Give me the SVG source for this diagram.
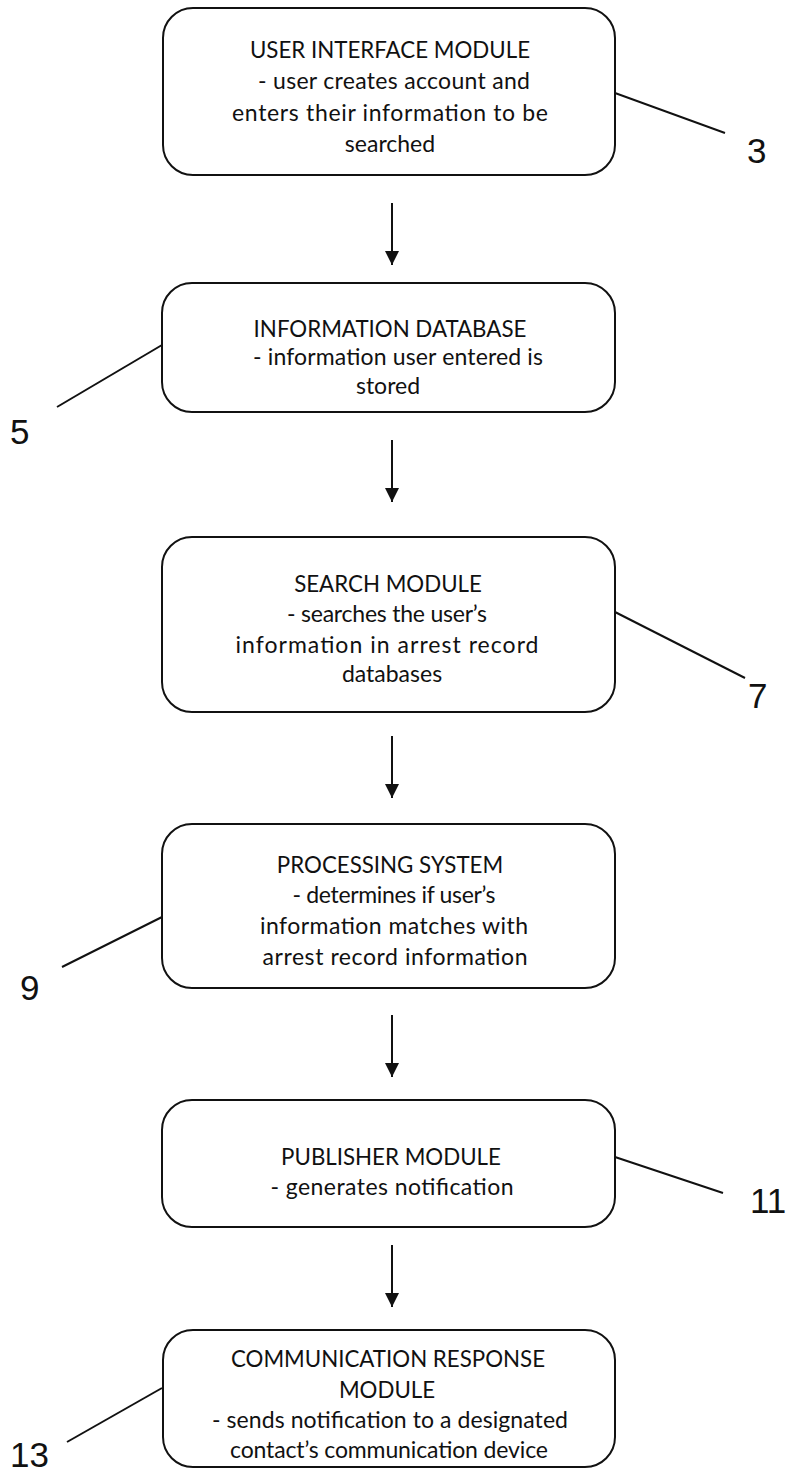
<svg xmlns="http://www.w3.org/2000/svg" width="795" height="1473" viewBox="0 0 795 1473">
<style>
.box{fill:#fff;stroke:#111;stroke-width:2}
.t{font-family:Lato,"Open Sans",sans-serif;font-size:23px;fill:#111;text-anchor:middle}
.c{font-size:22.3px}
.lbl{font-family:"Liberation Sans",Arial,sans-serif;font-size:35px;fill:#111}
.ln{stroke:#111;stroke-width:2;fill:none}
</style>
<defs>
<marker id="ah" viewBox="0 0 10 10" refX="10" refY="5" markerWidth="7" markerHeight="7" orient="auto" markerUnits="strokeWidth">
<path d="M0,0 L10,5 L0,10 Z" fill="#111"/>
</marker>
</defs>
<rect width="795" height="1473" fill="#fff"/>
<g id="n3">
<rect class="box" x="163" y="8" width="452" height="167" rx="30"/>
<text class="t c" x="390" y="58">USER INTERFACE MODULE</text>
<text class="t" x="394" y="89" textLength="272">- user creates account and</text>
<text class="t" x="390" y="121" textLength="316">enters their information to be</text>
<text class="t" x="390" y="152">searched</text>
</g>
<g id="n5">
<rect class="box" x="162" y="283" width="453" height="129" rx="30"/>
<text class="t c" x="390" y="337">INFORMATION DATABASE</text>
<text class="t" x="398" y="365" textLength="290">- information user entered is</text>
<text class="t" x="388" y="394">stored</text>
</g>
<g id="n7">
<rect class="box" x="162" y="537" width="453" height="175" rx="30"/>
<text class="t c" x="388" y="592">SEARCH MODULE</text>
<text class="t" x="387" y="622" textLength="200">- searches the user’s</text>
<text class="t" x="387" y="653" textLength="303">information in arrest record</text>
<text class="t" x="392" y="682">databases</text>
</g>
<g id="n9">
<rect class="box" x="162" y="824" width="453" height="164" rx="30"/>
<text class="t c" x="390" y="873">PROCESSING SYSTEM</text>
<text class="t" x="394" y="903" textLength="203">- determines if user’s</text>
<text class="t" x="394" y="934" textLength="268">information matches with</text>
<text class="t" x="395" y="965" textLength="265">arrest record information</text>
</g>
<g id="n11">
<rect class="box" x="162" y="1100" width="453" height="127" rx="30"/>
<text class="t c" x="391" y="1165">PUBLISHER MODULE</text>
<text class="t" x="392" y="1195" textLength="243">- generates notification</text>
</g>
<g id="n13">
<rect class="box" x="163" y="1330" width="452" height="137" rx="30"/>
<text class="t c" x="388" y="1367">COMMUNICATION RESPONSE</text>
<text class="t c" x="387" y="1398">MODULE</text>
<text class="t" x="390" y="1428" textLength="356">- sends notification to a designated</text>
<text class="t" x="389" y="1458" textLength="318">contact’s communication device</text>
</g>
<g id="connectors">
<line class="ln" x1="392" y1="203" x2="392" y2="265" marker-end="url(#ah)"/>
<line class="ln" x1="392" y1="440" x2="392" y2="502" marker-end="url(#ah)"/>
<line class="ln" x1="392" y1="736" x2="392" y2="798" marker-end="url(#ah)"/>
<line class="ln" x1="392" y1="1015" x2="392" y2="1077" marker-end="url(#ah)"/>
<line class="ln" x1="392" y1="1245" x2="392" y2="1307" marker-end="url(#ah)"/>
</g>
<g id="labels">
<line class="ln" x1="615" y1="93" x2="725" y2="133"/>
<text class="lbl" x="747" y="163">3</text>
<line class="ln" x1="162" y1="345" x2="57" y2="407"/>
<text class="lbl" x="10" y="444">5</text>
<line class="ln" x1="615" y1="612" x2="745" y2="678"/>
<text class="lbl" x="748" y="708">7</text>
<line class="ln" x1="162" y1="917" x2="62" y2="967"/>
<text class="lbl" x="20" y="1000">9</text>
<line class="ln" x1="615" y1="1157" x2="723" y2="1193"/>
<text class="lbl" x="750" y="1213">11</text>
<line class="ln" x1="162" y1="1388" x2="67" y2="1442"/>
<text class="lbl" x="10" y="1467">13</text>
</g>
</svg>
